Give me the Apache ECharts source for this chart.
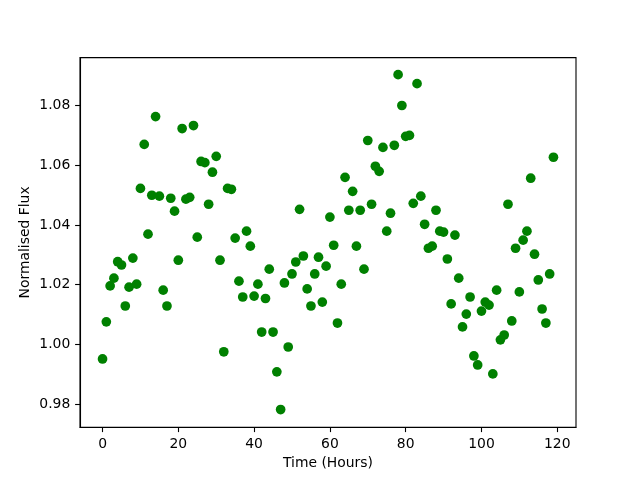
<!DOCTYPE html>
<html>
<head>
<meta charset="utf-8">
<script src="https://cdn.jsdelivr.net/npm/echarts@6/dist/echarts.min.js"></script>
<style>html,body{margin:0;padding:0;background:#fff}#c{width:640px;height:480px}</style>
</head>
<body>
<div id="c"></div>
<script>
var hours = [];
for (var i = 0; i < 120; i++) hours.push(i);
var flux = [
0.9952,1.0076,1.0196,1.0222,1.0277,1.0266,1.0129,1.0192,1.0289,1.0202,
1.0522,1.0669,1.0369,1.0499,1.0762,1.0496,1.0182,1.0129,1.0489,1.0446,
1.0282,1.0722,1.0486,1.0492,1.0732,1.0359,1.0612,1.0608,1.0469,1.0576,
1.0629,1.0282,0.9976,1.0522,1.0519,1.0356,1.0212,1.0159,1.0379,1.0329,
1.0162,1.0202,1.0042,1.0154,1.0252,1.0042,0.9909,0.9783,1.0206,0.9992,
1.0236,1.0276,1.0452,1.0296,1.0186,1.0129,1.0236,1.0292,1.0142,1.0262,
1.0426,1.0332,1.0072,1.0202,1.0559,1.0449,1.0512,1.0329,1.0449,1.0252,
1.0682,1.0469,1.0596,1.0579,1.0659,1.0379,1.0439,1.0666,1.0902,1.0799,
1.0696,1.0699,1.0472,1.0872,1.0496,1.0402,1.0322,1.0329,1.0449,1.0379,
1.0376,1.0286,1.0136,1.0366,1.0222,1.0059,1.0102,1.0159,0.9962,0.9932,
1.0112,1.0142,1.0132,0.9902,1.0182,1.0016,1.0032,1.0469,1.0079,1.0322,
1.0176,1.0349,1.0379,1.0556,1.0302,1.0216,1.0119,1.0072,1.0236,1.0626
];
var xTicks = [0, 20, 40, 60, 80, 100, 120];
var yTicks = [0.98, 1.00, 1.02, 1.04, 1.06, 1.08];

var pts = hours.map(function (h, i) { return [h, flux[i]]; });
var font = 'DejaVu Sans';
var fs = 13.9;

var chart = echarts.init(document.getElementById('c'), null, {renderer: 'canvas'});
chart.setOption({
  animation: false,
  backgroundColor: '#fff',
  grid: {left: 80, right: 64, top: 57.6, bottom: 52.8, show: true, borderColor: '#000', borderWidth: 1.1, backgroundColor: 'transparent'},
  xAxis: {
    type: 'value', min: -5.95, max: 124.95,
    name: 'Time (Hours)', nameLocation: 'middle', nameGap: 29, nameMoveOverlap: false,
    nameTextStyle: {fontFamily: font, fontSize: fs, color: '#000'},
    axisLine: {show: true, onZero: false, lineStyle: {color: '#000', width: 1.1}},
    axisTick: {show: true, length: 4.9, lineStyle: {color: '#000', width: 1.1}, customValues: xTicks},
    axisLabel: {show: true, margin: 9.7, fontFamily: font, fontSize: fs, color: '#000', customValues: xTicks,
      formatter: function (v) { return String(Math.round(v)); }},
    splitLine: {show: false}
  },
  yAxis: {
    type: 'value', min: 0.9724, max: 1.0959,
    name: 'Normalised Flux', nameLocation: 'middle', nameGap: 48, nameMoveOverlap: false,
    nameTextStyle: {fontFamily: font, fontSize: fs, color: '#000'},
    axisLine: {show: true, onZero: false, lineStyle: {color: '#000', width: 1.1}},
    axisTick: {show: true, length: 4.9, lineStyle: {color: '#000', width: 1.1}, customValues: yTicks},
    axisLabel: {show: true, margin: 9.7, fontFamily: font, fontSize: fs, color: '#000', customValues: yTicks,
      formatter: function (v) { return v.toFixed(2); }},
    splitLine: {show: false}
  },
  series: [{
    type: 'scatter',
    data: pts,
    symbol: 'circle',
    symbolSize: 9.7,
    itemStyle: {color: '#008000', opacity: 1},
    clip: false
  }]
});
</script>
</body>
</html>
